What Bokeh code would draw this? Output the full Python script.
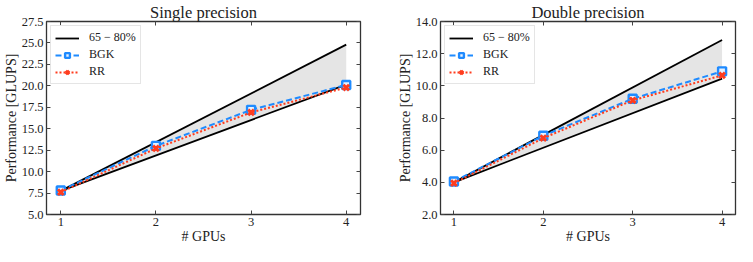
from bokeh.plotting import figure
from bokeh.layouts import row
from bokeh.models import LinearAxis, Range1d, FixedTicker, NumeralTickFormatter, Legend, LegendItem
from bokeh.embed import file_html
from bokeh.resources import INLINE

gpus = [1, 2, 3, 4]
sp_bgk = [7.8, 13.0, 17.2, 20.1]
sp_rr = [7.6, 12.7, 16.9, 19.8]
dp_bgk = [4.05, 6.9, 9.2, 10.9]
dp_rr = [3.95, 6.75, 9.1, 10.65]
bound_x = [1, 4]
sp_upper = [7.75, 24.8]
sp_lower = [7.75, 20.15]
dp_upper = [4.0, 12.85]
dp_lower = [4.0, 10.45]
sp_yticks = [5.0, 7.5, 10.0, 12.5, 15.0, 17.5, 20.0, 22.5, 25.0, 27.5]
dp_yticks = [2.0, 4.0, 6.0, 8.0, 10.0, 12.0, 14.0]
x_ticks = [1, 2, 3, 4]

FONT = "Liberation Serif"
BLUE = "#1f8bff"
RED = "#ff3c1e"
TICK = "#444444"


def style_axis(ax, ticks, fmt=None):
    ax.ticker = FixedTicker(ticks=ticks)
    ax.minor_tick_line_color = None
    ax.major_tick_in = 4
    ax.major_tick_out = 0
    ax.major_tick_line_color = TICK
    ax.axis_line_color = None
    ax.major_label_text_font = FONT
    ax.major_label_text_color = "#222222"
    ax.major_label_text_font_size = "12.5px"
    ax.axis_label_text_font = FONT
    ax.axis_label_text_font_style = "normal"
    ax.axis_label_text_font_size = "14px"
    ax.axis_label_text_color = "#222222"
    ax.major_label_standoff = 3
    ax.axis_label_standoff = 0
    if fmt is not None:
        ax.formatter = fmt


def tick_only_axis(ticks):
    ax = LinearAxis(ticker=FixedTicker(ticks=[], minor_ticks=ticks))
    ax.axis_line_color = None
    ax.major_tick_line_color = None
    ax.minor_tick_in = 4
    ax.minor_tick_out = 0
    ax.minor_tick_line_color = TICK
    ax.major_label_standoff = 0
    return ax


def make(title, bgk, rr, upper, lower, ylim, yticks, width, bl, br):
    p = figure(width=width, height=246, output_backend="svg", toolbar_location=None,
               x_range=Range1d(0.85, 4.15), y_range=Range1d(*ylim),
               min_border_left=bl, min_border_right=br, min_border_top=0, min_border_bottom=0)
    p.title.text = title
    p.title.align = "center"
    p.title.text_font = FONT
    p.title.text_font_style = "normal"
    p.title.text_font_size = "16.5px"
    p.title.text_color = "#222222"
    p.title.standoff = 0
    p.title.offset = 0
    p.grid.visible = False
    p.outline_line_color = "#333333"
    p.outline_line_width = 1.3

    p.varea(x=bound_x, y1=lower, y2=upper, fill_color="#e5e5e5")
    r_up = p.line(bound_x, upper, line_color="black", line_width=1.8)
    p.line(bound_x, lower, line_color="black", line_width=1.8)
    l_b = p.line(gpus, bgk, line_color=BLUE, line_width=2, line_dash="6 3")
    s_b = p.scatter(gpus, bgk, marker="square", size=8, line_color=BLUE, line_width=2.4, fill_color="#e8f2ff")
    l_r = p.line(gpus, rr, line_color=RED, line_width=2, line_dash="2 2")
    s_r = p.scatter(gpus, rr, marker="x", size=8, line_color=RED, line_width=3)

    style_axis(p.xaxis[0], x_ticks)
    p.xaxis[0].axis_label = "# GPUs"
    style_axis(p.yaxis[0], yticks, NumeralTickFormatter(format="0.0"))
    p.yaxis[0].axis_label = "Performance [GLUPS]"
    p.add_layout(tick_only_axis(yticks), "right")
    p.add_layout(tick_only_axis(x_ticks), "above")

    leg = Legend(items=[LegendItem(label="65 − 80%", renderers=[r_up]),
                        LegendItem(label="BGK", renderers=[l_b, s_b]),
                        LegendItem(label="RR", renderers=[l_r, s_r])],
                 location="top_left")
    leg.label_text_font = FONT
    leg.label_text_font_size = "12px"
    leg.label_text_color = "#222222"
    leg.border_line_color = "#cccccc"
    leg.background_fill_alpha = 0.85
    leg.glyph_width = 24
    leg.glyph_height = 12
    leg.spacing = 2
    leg.padding = 4
    leg.margin = 4
    leg.label_standoff = 10
    leg.label_height = 12
    p.add_layout(leg)
    return p


p1 = make("Single precision", sp_bgk, sp_rr, sp_upper, sp_lower, (5.0, 27.5), sp_yticks, 370, 45, 10)
p2 = make("Double precision", dp_bgk, dp_rr, dp_upper, dp_lower, (2.0, 14.0), dp_yticks, 367, 70, 2)
layout = row(p1, p2)
open("out.html", "w").write(file_html(layout, INLINE))
